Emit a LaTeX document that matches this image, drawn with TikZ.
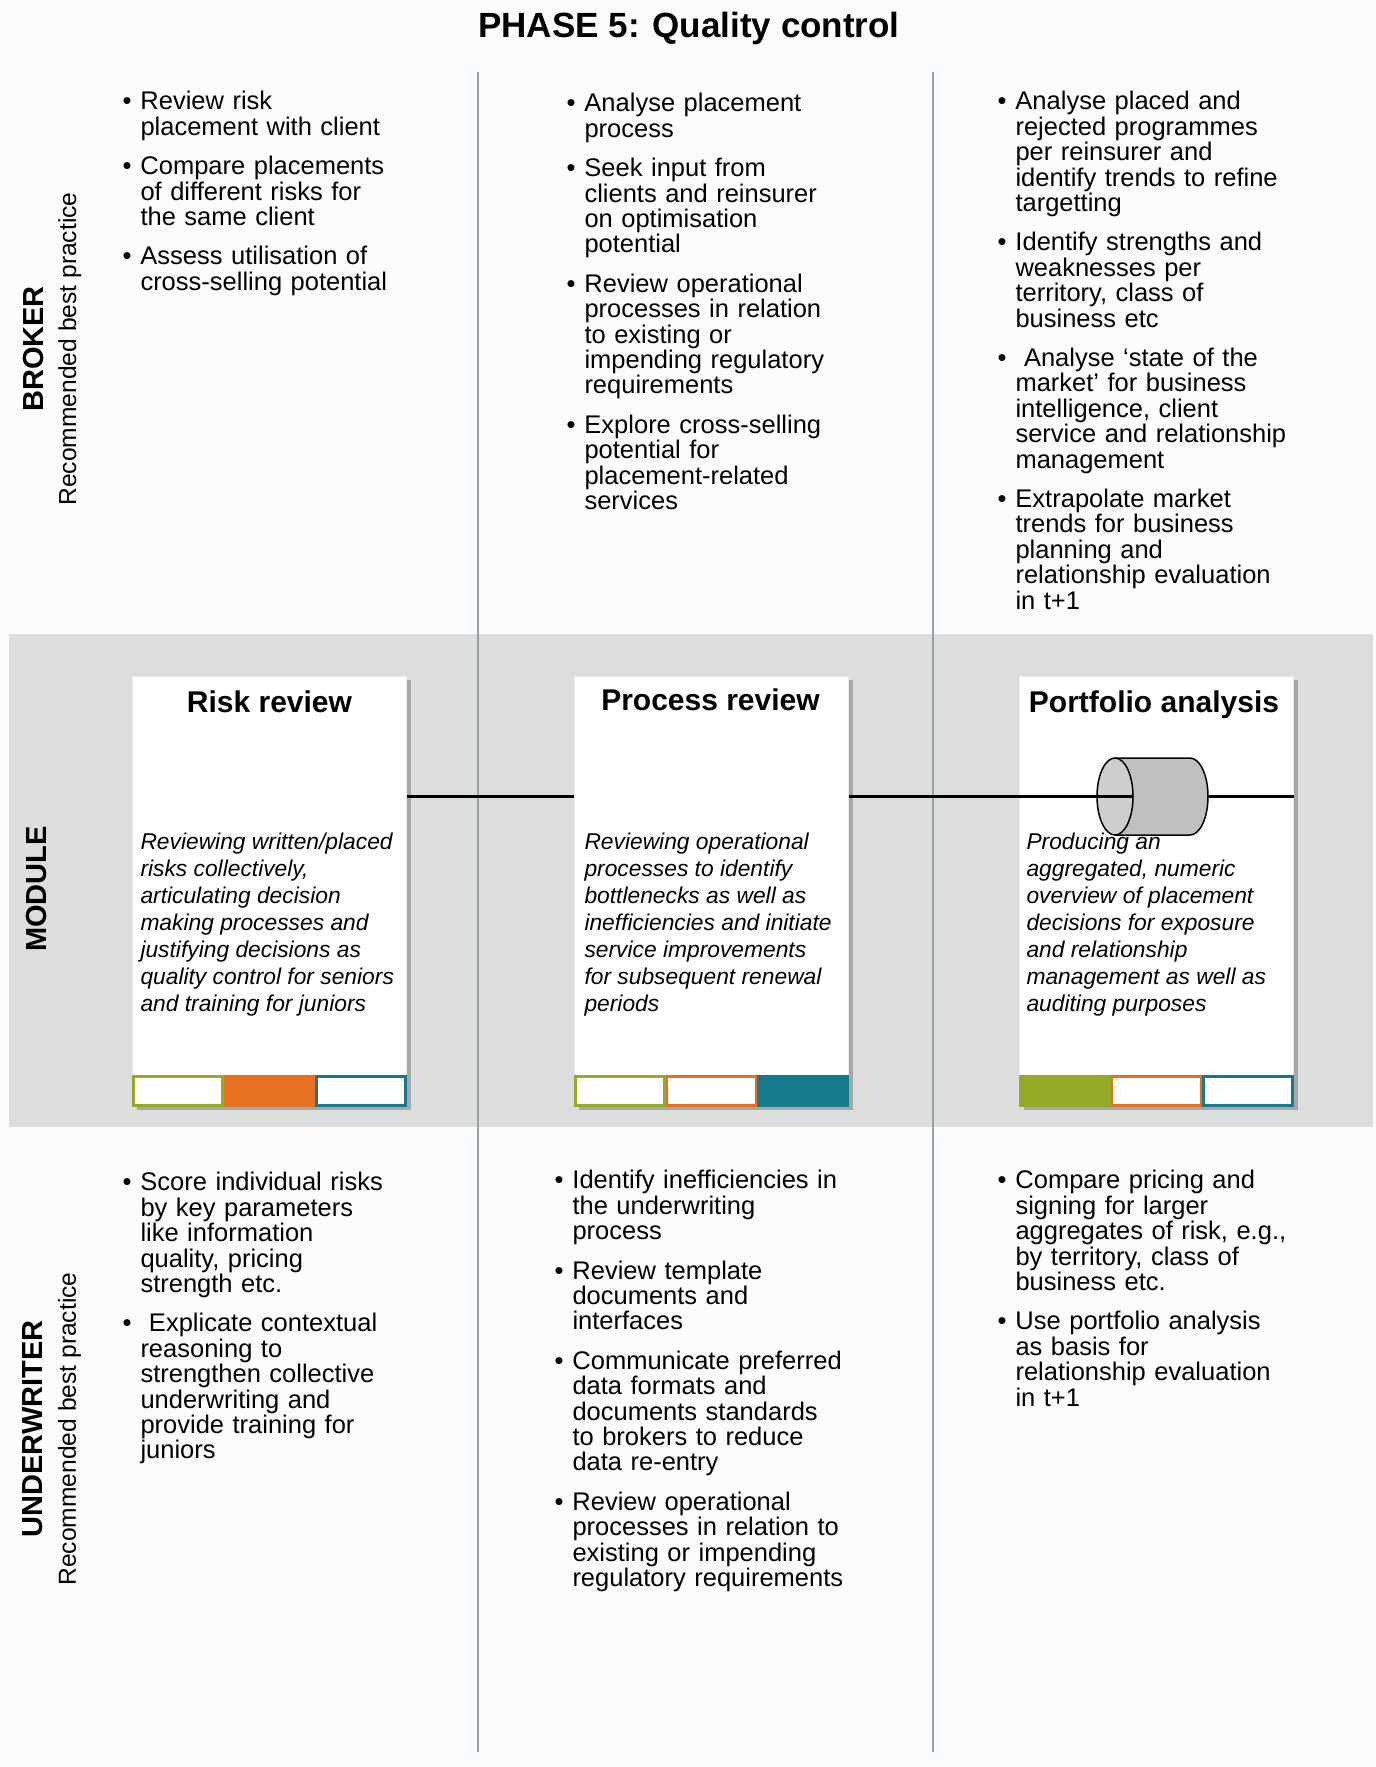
\documentclass[tikz,border=0pt]{standalone}
\usepackage{fontspec}
\setmainfont{Liberation Sans}
\usepackage{tikz}
\usetikzlibrary{positioning}
\usetikzlibrary{calc}
\usetikzlibrary{shadows}
\definecolor{pagebg}{RGB}{251,252,254}
\definecolor{bandgray}{RGB}{220,221,221}
\definecolor{divline}{RGB}{150,160,168}
\definecolor{barolive}{RGB}{150,170,40}
\definecolor{barorange}{RGB}{232,112,34}
\definecolor{barteal}{RGB}{20,122,140}
\definecolor{cylbody}{RGB}{192,192,192}
\definecolor{cylface}{RGB}{206,206,206}
\newcommand{\listfont}{\fontsize{25.5}{25.4}\selectfont}
\newcommand{\cardfont}{\fontsize{22.8}{27}\selectfont\itshape}
\newcommand{\bul}{\leavevmode\llap{\textbullet\hspace{9pt}}}
\tikzset{every picture/.style={line width=1pt},
  bullets/.style={anchor=north west, inner sep=0pt, text width=345pt, align=left, font=\listfont},
  card/.style={minimum width=274pt, minimum height=430pt, inner sep=0pt, fill=white, draw=black!8, drop shadow={shadow xshift=4pt, shadow yshift=-4pt, fill=black!60, opacity=0.45}},
  cardtitle/.style={anchor=base, inner sep=0pt, font=\fontsize{30}{36}\selectfont\bfseries},
  cardtext/.style={anchor=north west, inner sep=0pt, align=left, font=\cardfont},
  bar/.style={minimum width=89pt, minimum height=29pt, inner sep=0pt, outer sep=0pt, line width=2.5pt, fill=white},
  side/.style={rotate=90, align=center, inner sep=0pt, font=\fontsize{24.6}{33}\selectfont},
  link/.style={line width=2.5pt},
  divider/.style={draw=divline, line width=2.5pt}}

\begin{document}
\begin{tikzpicture}[x=1pt, y=-1pt]
\fill[pagebg] (0,0) rectangle (1376,1767);
\fill[bandgray] (9,634) rectangle (1373,1127);
\coordinate (d1a) at (478,72);
\coordinate (d1b) at (478,1752);
\coordinate (d2a) at (933,72);
\coordinate (d2b) at (933,1752);
\draw[divider] (d1a) -- (d1b);
\draw[divider] (d2a) -- (d2b);

\node (title) at (689,37) [anchor=base, inner sep=0pt, font=\fontsize{35}{42}\selectfont\bfseries] {PHASE 5: Quality control};

\node (broker) at (52,349) [side] {{\fontsize{29}{33}\selectfont\bfseries BROKER}\\Recommended best practice};
\node (module) at (37,889) [side, font=\fontsize{29}{33}\selectfont\bfseries] {MODULE};
\node (uwriter) at (52,1429) [side] {{\fontsize{29}{33}\selectfont\bfseries UNDERWRITER}\\Recommended best practice};

\node (bro1) at (122,91) [bullets] {\leftskip=18pt
\bul Review risk\\
placement with client\\[14pt]
\bul Compare placements\\
of different risks for\\
the same client\\[14pt]
\bul Assess utilisation of\\
cross-selling potential\par};
\node (bro2) at (566,93) [bullets] {\leftskip=18pt
\bul Analyse placement\\
process\\[14pt]
\bul Seek input from\\
clients and reinsurer\\
on optimisation\\
potential\\[14pt]
\bul Review operational\\
processes in relation\\
to existing or\\
impending regulatory\\
requirements\\[14pt]
\bul Explore cross-selling\\
potential for\\
placement-related\\
services\par};
\node (bro3) at (997,91) [bullets] {\leftskip=18pt
\bul Analyse placed and\\
rejected programmes\\
per reinsurer and\\
identify trends to refine\\
targetting\\[14pt]
\bul Identify strengths and\\
weaknesses per\\
territory, class of\\
business etc\\[14pt]
\bul \ Analyse `state of the\\
market' for business\\
intelligence, client\\
service and relationship\\
management\\[14pt]
\bul Extrapolate market\\
trends for business\\
planning and\\
relationship evaluation\\
in t+1\par};

\node (risk) at (269.5,891) [card] {};
\node (proc) [card, right=167pt of risk] {};
\node (port) [card, right=170pt of proc] {};

\node (rb1) at ($(risk.south west)+(1.25,-1.25)$) [bar, anchor=south west, draw=barolive] {};
\node (rb2) [bar, right=2.5pt of rb1, draw=barorange, fill=barorange] {};
\node (rb3) [bar, right=2.5pt of rb2, draw=barteal] {};
\node (pb1) at ($(proc.south west)+(1.25,-1.25)$) [bar, anchor=south west, draw=barolive] {};
\node (pb2) [bar, right=2.5pt of pb1, draw=barorange] {};
\node (pb3) [bar, right=2.5pt of pb2, draw=barteal, fill=barteal] {};
\node (qb1) at ($(port.south west)+(1.25,-1.25)$) [bar, anchor=south west, draw=barolive, fill=barolive] {};
\node (qb2) [bar, right=2.5pt of qb1, draw=barorange] {};
\node (qb3) [bar, right=2.5pt of qb2, draw=barteal] {};

\node (risktitle) at (269.5,712) [cardtitle] {Risk review};
\node (proctitle) at (710.5,710) [cardtitle] {Process review};
\node (porttitle) at (1154,712) [cardtitle] {Portfolio analysis};

\node (risktext) at (140,832) [cardtext] {Reviewing written/placed\\risks collectively,\\articulating decision\\making processes and\\justifying decisions as\\quality control for seniors\\and training for juniors};
\node (proctext) at (584,832) [cardtext] {Reviewing operational\\processes to identify\\bottlenecks as well as\\inefficiencies and initiate\\service improvements\\for subsequent renewal\\periods};
\node (porttext) at (1026,832) [cardtext] {Producing an\\aggregated, numeric\\overview of placement\\decisions for exposure\\and relationship\\management as well as\\auditing purposes};

\node (cyl) at (1152.5,796.5) [minimum width=111pt, minimum height=77pt, inner sep=0pt, outer sep=0pt] {};
\filldraw[fill=cylbody, line width=1.5pt] ($(cyl.north west)+(18,0)$) -- ($(cyl.north east)+(-18,0)$) arc[start angle=90, end angle=-90, x radius=18pt, y radius=38.5pt] -- ($(cyl.south west)+(18,0)$) -- cycle;
\filldraw[fill=cylface, line width=1.5pt] ($(cyl.west)+(18,0)$) ellipse [x radius=18pt, y radius=38.5pt];

\draw[link] (risk.east |- cyl) -- (proc.west |- cyl);
\draw[link] (proc.east |- cyl) -- ($(cyl.west)+(36,0)$);
\draw[link] (cyl.east) -- (port.east |- cyl);

\node (und1) at (122,1172) [bullets] {\leftskip=18pt
\bul Score individual risks\\
by key parameters\\
like information\\
quality, pricing\\
strength etc.\\[14pt]
\bul \ Explicate contextual\\
reasoning to\\
strengthen collective\\
underwriting and\\
provide training for\\
juniors\par};
\node (und2) at (554,1170) [bullets] {\leftskip=18pt
\bul Identify inefficiencies in\\
the underwriting\\
process\\[14pt]
\bul Review template\\
documents and\\
interfaces\\[14pt]
\bul Communicate preferred\\
data formats and\\
documents standards\\
to brokers to reduce\\
data re-entry\\[14pt]
\bul Review operational\\
processes in relation to\\
existing or impending\\
regulatory requirements\par};
\node (und3) at (997,1170) [bullets] {\leftskip=18pt
\bul Compare pricing and\\
signing for larger\\
aggregates of risk, e.g.,\\
by territory, class of\\
business etc.\\[14pt]
\bul Use portfolio analysis\\
as basis for\\
relationship evaluation\\
in t+1\par};
\end{tikzpicture}
\end{document}
